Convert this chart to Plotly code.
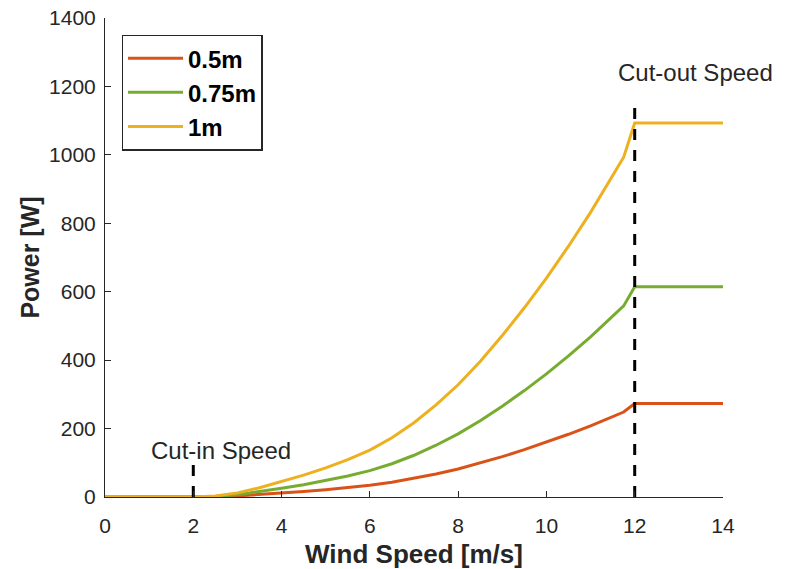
import plotly.graph_objects as go

# Wind speed samples [m/s]
wind_speed = [0, 2, 2.5, 3, 3.5, 4, 4.5, 5, 5.5, 6, 6.5, 7, 7.5, 8, 8.5, 9,
              9.5, 10, 10.5, 11, 11.5, 11.75, 12, 14]

# Power [W] for each rotor size
power_05m = [0, 0, 0.8, 3, 6.8, 11.3, 16, 21.3, 27.3, 34.3, 43.3, 54.3, 67.3,
             82, 99, 118, 138.3, 160, 183.3, 208, 234.3, 248.3, 273.3, 273.3]
power_075m = [0, 0, 1.7, 6.8, 15.2, 25.3, 36, 47.8, 61.3, 77.1, 97.3, 122,
              151.3, 184.5, 222.8, 265.5, 311, 360, 412.3, 468, 527, 558.6,
              614.8, 614.8]
power_1m = [0, 0, 3, 12, 27, 45, 64, 85, 109, 137, 173, 217, 269, 328, 396,
            472, 553, 640, 733, 832, 937, 993, 1093, 1093]

series_names = ["0.5m", "0.75m", "1m"]
series_colors = ["#D95319", "#77AC30", "#EDB120"]

# Marker lines
cut_in_x = [2, 2]
cut_in_y = [0, 100]
cut_out_x = [12, 12]
cut_out_y = [0, 1160]
annot_text = ["Cut-in Speed", "Cut-out Speed"]
annot_x = [1.0, 11.58]
annot_y = [137, 1240]

x_ticks = [0, 2, 4, 6, 8, 10, 12, 14]
y_ticks = [0, 200, 400, 600, 800, 1000, 1200, 1400]

FONT = "Liberation Sans, Arial, Helvetica, sans-serif"
AX = "#262626"

fig = go.Figure()
for name, col, ys in zip(series_names, series_colors, [power_05m, power_075m, power_1m]):
    fig.add_trace(go.Scatter(x=wind_speed, y=ys, mode="lines", name=name,
                             legendgroup=name,
                             line=dict(color=col, width=3)))

for xs, ys in [(cut_in_x, cut_in_y), (cut_out_x, cut_out_y)]:
    fig.add_trace(go.Scatter(x=xs, y=ys, mode="lines", showlegend=False,
                             line=dict(color="black", width=3, dash="11px,10px")))

for t, x, y in zip(annot_text, annot_x, annot_y):
    fig.add_annotation(x=x, y=y, text=t, showarrow=False, xanchor="left",
                       yanchor="middle", font=dict(family=FONT, size=24, color=AX))

fig.update_layout(
    width=790, height=569,
    margin=dict(l=105, r=67, t=18, b=72),
    paper_bgcolor="white", plot_bgcolor="white",
    font=dict(family=FONT, size=21, color=AX),
    showlegend=True,
    legend=dict(x=0.027, y=0.965, xanchor="left", yanchor="top",
                bordercolor=AX, borderwidth=1.3, bgcolor="white",
                font=dict(family=FONT, size=24, color="black", weight="bold"),
                traceorder="grouped", tracegroupgap=0, itemwidth=55),
)
fig.update_xaxes(range=[0, 14], tickvals=x_ticks, showgrid=False, zeroline=False,
                 showline=True, linecolor=AX, linewidth=1, ticks="inside",
                 ticklen=6, tickcolor=AX, mirror=False, ticklabelstandoff=10,
                 automargin=False,
                 tickfont=dict(family=FONT, size=21, color=AX),
                 title=dict(text="<b>Wind Speed [m/s]</b>",
                            font=dict(family=FONT, size=26, color=AX), standoff=9))
fig.update_yaxes(range=[0, 1400], tickvals=y_ticks, showgrid=False, zeroline=False,
                 showline=True, linecolor=AX, linewidth=1, ticks="inside",
                 ticklen=6, tickcolor=AX, mirror=False, ticklabelstandoff=4,
                 automargin=False,
                 tickfont=dict(family=FONT, size=21, color=AX),
                 title=dict(text="<b>Power [W]</b>",
                            font=dict(family=FONT, size=25, color=AX), standoff=2))

fig.write_html("out.html")
